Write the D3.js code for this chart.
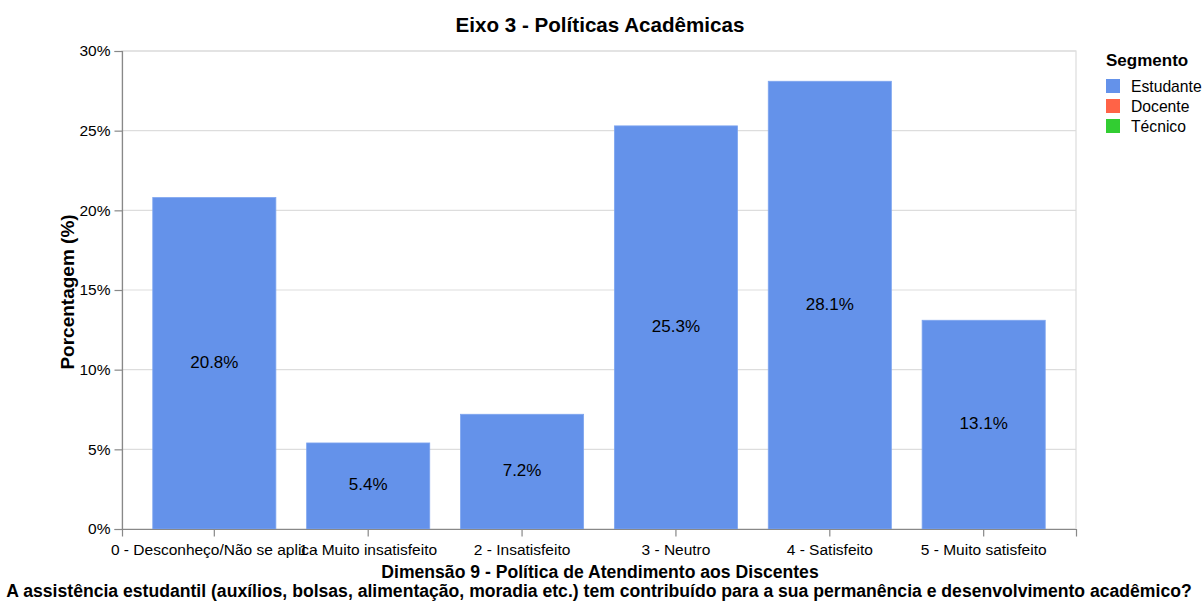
<!DOCTYPE html>
<html><head><meta charset="utf-8">
<script src="https://cdn.jsdelivr.net/npm/d3@7"></script>
<style>body{margin:0;background:#fff}svg{display:block;font-family:"Liberation Sans",Arial,sans-serif}</style>
</head><body><svg id="c" width="1202" height="601"></svg>
<script>
const categories = ["0 - Desconheço/Não se aplica","1 - Muito insatisfeito","2 - Insatisfeito","3 - Neutro","4 - Satisfeito","5 - Muito satisfeito"];
const estudante = [20.8, 5.4, 7.2, 25.3, 28.1, 13.1];
const yTicks = [0,5,10,15,20,25,30];
const segments = ["Estudante","Docente","Técnico"];
const segColors = ["#6492EA","#FF6347","#32CD32"];
const title = "Eixo 3 - Políticas Acadêmicas";
const xTitle = ["Dimensão 9 - Política de Atendimento aos Discentes","A assistência estudantil (auxílios, bolsas, alimentação, moradia etc.) tem contribuído para a sua permanência e desenvolvimento acadêmico?"];
const yTitle = "Porcentagem (%)";

const svg = d3.select("#c");
const L=122,R=1076,T=51,B=529;
const x = d3.scaleBand().domain(categories).range([L,R]).paddingInner(0.2).paddingOuter(0.2);
const y = d3.scaleLinear().domain([0,30]).range([B,T]);
const color = d3.scaleOrdinal().domain(segments).range(segColors);

// grid
svg.append("g").selectAll("line").data(yTicks).join("line")
  .attr("x1",L).attr("x2",R).attr("y1",d=>y(d)).attr("y2",d=>y(d))
  .attr("stroke","#ddd").attr("stroke-width",1.2);
// view border
svg.append("rect").attr("x",L).attr("y",T).attr("width",R-L).attr("height",B-T)
  .attr("fill","none").attr("stroke","#ddd").attr("stroke-width",1.2);

// bars
const data = categories.map((c,i)=>({c,v:estudante[i]}));
svg.append("g").selectAll("rect").data(data).join("rect")
  .attr("x",d=>x(d.c)).attr("width",x.bandwidth())
  .attr("y",d=>y(d.v)).attr("height",d=>y(0)-y(d.v))
  .attr("fill",color("Estudante")).attr("stroke","#7ea5ef").attr("stroke-width",0.8);
svg.append("g").selectAll("text").data(data).join("text")
  .attr("x",d=>x(d.c)+x.bandwidth()/2).attr("y",d=>(y(d.v)+y(0))/2)
  .attr("text-anchor","middle").attr("dominant-baseline","middle")
  .attr("font-size",17).attr("fill","#000").text(d=>d.v.toFixed(1)+"%");

// axes
const ya = svg.append("g").attr("transform",`translate(${L},0)`)
  .call(d3.axisLeft(y).tickValues(yTicks).tickFormat(d=>d+"%").tickSize(7.5).tickPadding(4));
const xa = svg.append("g").attr("transform",`translate(0,${B})`)
  .call(d3.axisBottom(x).tickSize(7.5).tickPadding(7));
[ya,xa].forEach(a=>{
  a.select(".domain").attr("stroke","#888").attr("stroke-width",1.2);
  a.selectAll(".tick line").attr("stroke","#888").attr("stroke-width",1.2);
  a.selectAll(".tick text").attr("font-size",15.5).attr("fill","#000").attr("font-family","Liberation Sans, Arial, sans-serif");
});

// titles
svg.append("text").attr("x",600).attr("y",32).attr("text-anchor","middle")
  .attr("font-size",20.6).attr("font-weight","bold").text(title);
svg.append("text").attr("x",600).attr("y",578).attr("text-anchor","middle")
  .attr("font-size",17.6).attr("font-weight","bold").text(xTitle[0]);
svg.append("text").attr("x",599).attr("y",597).attr("text-anchor","middle")
  .attr("font-size",17.6).attr("font-weight","bold").text(xTitle[1]);
svg.append("text").attr("transform",`translate(74,292) rotate(-90)`).attr("text-anchor","middle")
  .attr("font-size",19).attr("font-weight","bold").text(yTitle);

// legend
const lg = svg.append("g").attr("transform","translate(1106,0)");
lg.append("text").attr("x",0).attr("y",66).attr("font-size",17).attr("font-weight","bold").text("Segmento");
const it = lg.selectAll("g.it").data(segments).join("g").attr("class","it")
  .attr("transform",(d,i)=>`translate(0,${79+i*20})`);
it.append("rect").attr("width",14).attr("height",14).attr("fill",d=>color(d));
it.append("text").attr("x",25).attr("y",13).attr("font-size",15.7).text(d=>d);
</script></body></html>
